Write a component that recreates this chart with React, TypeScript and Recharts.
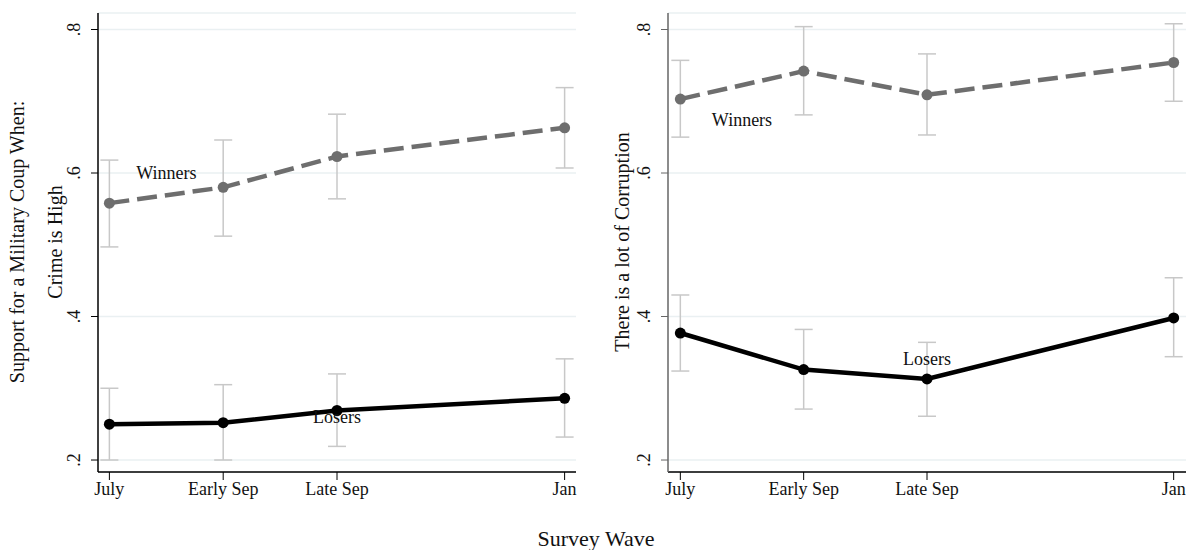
import { CartesianGrid, ErrorBar, Line, LineChart, ReferenceDot, XAxis, YAxis } from "recharts";

const waves = ["July", "Early Sep", "Late Sep", "Jan"];
const wavePos = [0, 1, 2, 4];
const yTicks = [0.2, 0.4, 0.6, 0.8];
const groups = ["Winners", "Losers"];

// crime panel: estimates and 95% CI bounds
const crimeWinners = [0.558, 0.58, 0.623, 0.663];
const crimeWinnersLow = [0.497, 0.512, 0.564, 0.607];
const crimeWinnersHigh = [0.618, 0.646, 0.682, 0.719];
const crimeLosers = [0.25, 0.252, 0.269, 0.286];
const crimeLosersLow = [0.2, 0.2, 0.219, 0.232];
const crimeLosersHigh = [0.3, 0.305, 0.32, 0.341];

// corruption panel
const corrWinners = [0.703, 0.742, 0.709, 0.754];
const corrWinnersLow = [0.65, 0.681, 0.653, 0.7];
const corrWinnersHigh = [0.757, 0.804, 0.766, 0.808];
const corrLosers = [0.377, 0.326, 0.313, 0.398];
const corrLosersLow = [0.324, 0.271, 0.261, 0.344];
const corrLosersHigh = [0.43, 0.382, 0.364, 0.454];

// where the group names sit, in data units [wave, value]
const crimeNameAt = [[0.5, 0.601], [2, 0.26]];
const corrNameAt = [[0.5, 0.674], [2, 0.342]];

const font = '"Liberation Serif", "Times New Roman", serif';

function rows(win: number[], winLo: number[], winHi: number[], lose: number[], loseLo: number[], loseHi: number[]) {
  return wavePos.map((x, i) => ({
    x,
    win: win[i],
    winErr: [win[i] - winLo[i], winHi[i] - win[i]],
    lose: lose[i],
    loseErr: [lose[i] - loseLo[i], loseHi[i] - lose[i]],
  }));
}

const YTick = ({ x, y, payload }: any) => (
  <text x={x} y={y} transform={`rotate(-90 ${x} ${y})`} textAnchor="middle" fill="#111" fontSize={18} fontFamily={font}>
    {String(payload.value).replace(/^0/, "")}
  </text>
);

function Panel({ data, names, left, yColor }: { data: any[]; names: number[][]; left: number; yColor: string }) {
  return (
    <LineChart width={left === 0 ? 590 : 596} height={550} data={data} margin={{ top: 13, right: left === 0 ? 14 : 0, left: left === 0 ? 58 : 38, bottom: 48 }} style={{ fontFamily: font }}>
      <CartesianGrid vertical={false} stroke="#eaf0f2" strokeWidth={1.5} />
      <XAxis dataKey="x" type="number" domain={[-0.1, 4.1]} ticks={wavePos} allowDataOverflow height={30} tickSize={8} tickMargin={2}
        tickFormatter={(v) => waves[wavePos.indexOf(v)]} tick={{ fill: "#111", fontSize: 18 }} stroke="#000" axisLine={{ stroke: "#000", strokeWidth: 1.5 }} />
      <YAxis type="number" domain={[0.1833, 0.823]} ticks={yTicks} allowDataOverflow width={40} tickSize={7} tickMargin={11} tick={<YTick />}
        stroke={yColor} axisLine={{ stroke: yColor, strokeWidth: 1.5 }} />
      <Line dataKey="win" stroke="none" dot={false} activeDot={false} isAnimationActive={false}>
        <ErrorBar dataKey="winErr" direction="y" width={9} stroke="#c8c8c8" strokeWidth={1.5} isAnimationActive={false} />
      </Line>
      <Line dataKey="lose" stroke="none" dot={false} activeDot={false} isAnimationActive={false}>
        <ErrorBar dataKey="loseErr" direction="y" width={9} stroke="#c8c8c8" strokeWidth={1.5} isAnimationActive={false} />
      </Line>
      <Line dataKey="win" stroke="#6e6e6e" strokeWidth={4.5} strokeDasharray="20 8" dot={{ r: 5.5, fill: "#6e6e6e", strokeWidth: 0 }} activeDot={false} isAnimationActive={false} />
      <Line dataKey="lose" stroke="#000" strokeWidth={4.5} dot={{ r: 5.5, fill: "#000", strokeWidth: 0 }} activeDot={false} isAnimationActive={false} />
      {names.map(([x, y], i) => (
        <ReferenceDot key={groups[i]} x={x} y={y} r={0} fill="none" stroke="none"
          label={{ value: groups[i], position: "center", fill: "#111", fontSize: 18, fontFamily: font }} />
      ))}
    </LineChart>
  );
}

export default function App() {
  const crime = rows(crimeWinners, crimeWinnersLow, crimeWinnersHigh, crimeLosers, crimeLosersLow, crimeLosersHigh);
  const corr = rows(corrWinners, corrWinnersLow, corrWinnersHigh, corrLosers, corrLosersLow, corrLosersHigh);
  return (
    <div style={{ position: "absolute", left: 0, top: 0, width: 1186, height: 550, background: "#fff", fontFamily: font }}>
      <div style={{ position: "absolute", left: 0, top: 0 }}>
        <Panel data={crime} names={crimeNameAt} left={0} yColor="#000" />
      </div>
      <div style={{ position: "absolute", left: 590, top: 0 }}>
        <Panel data={corr} names={corrNameAt} left={590} yColor="#666" />
      </div>
      <svg width={1186} height={550} style={{ position: "absolute", left: 0, top: 0, pointerEvents: "none" }} fontFamily={font} fill="#111">
        <text x={17} y={242} transform="rotate(-90 17 242)" textAnchor="middle" dominantBaseline="central" fontSize={20}>Support for a Military Coup When:</text>
        <text x={55} y={242} transform="rotate(-90 55 242)" textAnchor="middle" dominantBaseline="central" fontSize={20}>Crime is High</text>
        <text x={622} y={242} transform="rotate(-90 622 242)" textAnchor="middle" dominantBaseline="central" fontSize={20}>There is a lot of Corruption</text>
        <text x={596} y={546} textAnchor="middle" fontSize={22}>Survey Wave</text>
      </svg>
    </div>
  );
}
